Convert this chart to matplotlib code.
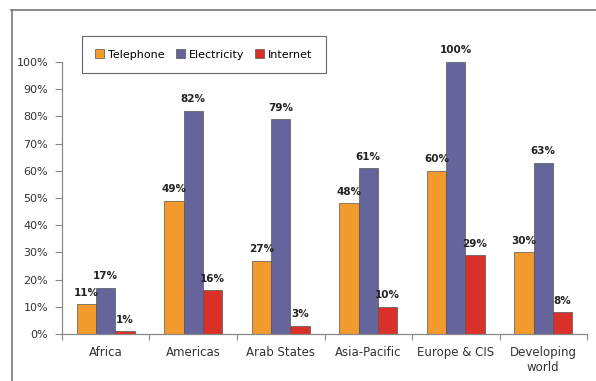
import numpy as np
import matplotlib.pyplot as plt
from matplotlib.lines import Line2D

regions = ["Africa", "Americas", "Arab States", "Asia-Pacific", "Europe & CIS", "Developing\nworld"]
telephone = [11, 49, 27, 48, 60, 30]
electricity = [17, 82, 79, 61, 100, 63]
internet = [1, 16, 3, 10, 29, 8]

series = [("Telephone", telephone, "#F29A2E"),
          ("Electricity", electricity, "#65659B"),
          ("Internet", internet, "#D9302A")]

fig = plt.figure(figsize=(5.96, 3.81), dpi=100)
ax = fig.add_axes([0.104, 0.1234, 0.881, 0.7139])

x = np.arange(len(regions))
w = 0.22
for i, (name, vals, col) in enumerate(series):
    pos = x + (i - 1) * w
    ax.bar(pos, vals, w, color=col, edgecolor="#555555", linewidth=0.5, label=name)
    for p, v in zip(pos, vals):
        ax.text(p, v + 2.4, f"{v}%", ha="center", va="bottom",
                fontsize=7.5, fontweight="bold", color="#222222")

ax.set_xlim(-0.5, len(regions) - 0.5)
ax.set_ylim(0, 100)
ax.set_yticks(np.arange(0, 101, 10))
ax.set_yticklabels([f"{t}%" for t in range(0, 101, 10)])
ax.set_xticks(x)
ax.set_xticklabels(regions)
ax.set_xticks(np.arange(-0.5, len(regions), 1), minor=True)
ax.tick_params(axis="x", which="major", length=0, pad=9, labelsize=8.5, colors="#333333")
ax.tick_params(axis="x", which="minor", length=4, width=0.8, color="#888888", direction="out")
ax.tick_params(axis="y", length=5, width=0.8, color="#888888", labelsize=8,
               labelcolor="#333333", pad=5)
for s in ["top", "right"]:
    ax.spines[s].set_visible(False)
for s in ["left", "bottom"]:
    ax.spines[s].set_color("#888888")
    ax.spines[s].set_linewidth(0.9)

leg = ax.legend(loc="center", bbox_to_anchor=(0.342, 0.857), bbox_transform=fig.transFigure,
                ncol=3, fontsize=8, frameon=True, fancybox=False, edgecolor="#444444",
                handlelength=0.8, handleheight=0.8, handletextpad=0.35, columnspacing=1.0,
                borderpad=1.2)
leg.get_frame().set_linewidth(0.8)

# outer frame (top and left edges only)
fig.add_artist(Line2D([0.019, 1.0], [0.973, 0.973], transform=fig.transFigure,
                      color="#777777", linewidth=1.2))
fig.add_artist(Line2D([0.020, 0.020], [0.0, 0.973], transform=fig.transFigure,
                      color="#777777", linewidth=1.2))

fig.savefig("out.png", dpi=100)
